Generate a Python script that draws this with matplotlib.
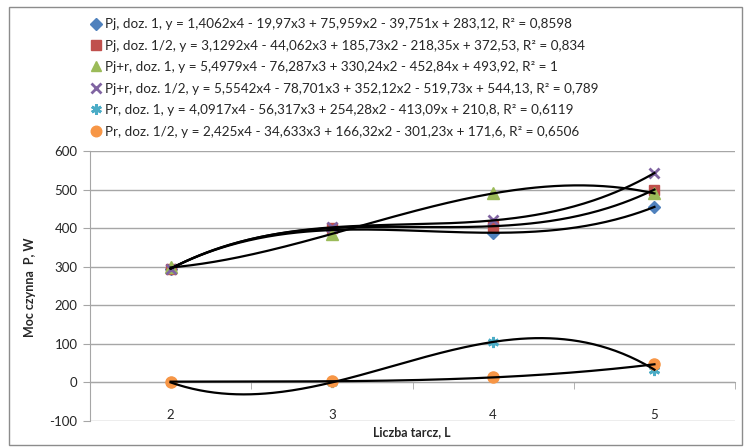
"""Moc czynna vs liczba tarcz, with order-4 trendline labels (Excel-style chart)."""

import matplotlib

matplotlib.use("Agg")
import matplotlib.pyplot as plt
import numpy as np
from matplotlib.lines import Line2D
from matplotlib.patches import Rectangle

plt.rcParams["font.family"] = ["Lato", "DejaVu Sans"]
plt.rcParams["axes.unicode_minus"] = False

categories = ["2", "3", "4", "5"]

pj_1 = [295, 395, 388, 455]
pj_half = [295, 400, 405, 500]
pjr_1 = [298, 385, 490, 490]
pjr_half = [295, 402, 420, 543]
pr_1 = [0, 0, 105, 33]
pr_half = [2, 3, 13, 47]

labels = [
    "Pj, doz. 1, y = 1,4062x4 - 19,97x3 + 75,959x2 - 39,751x + 283,12, R² = 0,8598",
    "Pj, doz. 1/2, y = 3,1292x4 - 44,062x3 + 185,73x2 - 218,35x + 372,53, R² = 0,834",
    "Pj+r, doz. 1, y = 5,4979x4 - 76,287x3 + 330,24x2 - 452,84x + 493,92, R² = 1",
    "Pj+r, doz. 1/2, y = 5,5542x4 - 78,701x3 + 352,12x2 - 519,73x + 544,13, R² = 0,789",
    "Pr, doz. 1, y = 4,0917x4 - 56,317x3 + 254,28x2 - 413,09x + 210,8, R² = 0,6119",
    "Pr, doz. 1/2, y = 2,425x4 - 34,633x3 + 166,32x2 - 301,23x + 171,6, R² = 0,6506",
]

series = [pj_1, pj_half, pjr_1, pjr_half, pr_1, pr_half]
styles = [
    dict(marker="D", color="#4F81BD", ms=6.5),
    dict(marker="s", color="#C0504D", ms=7.5),
    dict(marker="^", color="#9BBB59", ms=8),
    dict(marker="x", color="#8064A2", ms=7.5, mew=2),
    dict(marker=(6, 2, 0), color="#4BACC6", ms=8, mew=2),
    dict(marker="o", color="#F79646", ms=8),
]

fig = plt.figure(figsize=(7.44, 4.47), dpi=100)
ax = fig.add_axes([0.121, 0.0582, 0.867, 0.604])

x = np.arange(len(categories))
handles = []
for vals, st in zip(series, styles):
    mew = st.get("mew", 1)
    ax.plot(x, vals, linestyle="none", marker=st["marker"], ms=st["ms"],
            color=st["color"], mec=st["color"], mew=mew, zorder=3)
    handles.append(Line2D([], [], linestyle="none", marker=st["marker"], ms=st["ms"] * 0.95,
                          color=st["color"], mec=st["color"], mew=mew))

# trendlines: exact polynomial through the 4 points (what Excel's order-4 fit ends up drawing)
xs = np.linspace(0, 3, 200)
for vals in series:
    coef = np.polyfit(x, vals, 3)
    ax.plot(xs, np.polyval(coef, xs), color="black", lw=1.6, zorder=4)

ax.set_xlim(-0.5, 3.5)
ax.set_ylim(-100, 600)
ax.set_yticks(np.arange(-100, 601, 100))
ax.grid(axis="y", color="#A6A6A6", lw=1)
ax.set_axisbelow(True)

for side in ["top", "right"]:
    ax.spines[side].set_visible(False)
ax.spines["left"].set_color("#A6A6A6")
ax.spines["bottom"].set_color("#A6A6A6")
ax.spines["bottom"].set_position(("data", 0))

ax.set_xticks(x)
ax.set_xticklabels(categories)
ax.set_xticks(np.arange(-0.5, 3.6, 1), minor=True)
ax.tick_params(axis="x", which="major", length=0, pad=19, labelsize=9.5, labelcolor="#262626")
ax.tick_params(axis="x", which="minor", length=5, color="#A6A6A6", direction="out")
ax.tick_params(axis="y", length=5, color="#A6A6A6", labelsize=9.5, labelcolor="#262626", pad=4)

fig.text(0.040, 0.358, "Moc czynna  P, W", rotation=90, ha="center", va="center",
         fontsize=9, fontweight="bold", color="#262626")
fig.text(0.554, 0.034, "Liczba tarcz, L", ha="center", va="center",
         fontsize=9, fontweight="bold", color="#262626")

fig.legend(handles, labels, loc="upper left", bbox_to_anchor=(0.113, 0.971),
           frameon=False, fontsize=9.7, labelspacing=0.70, handletextpad=0.15,
           handlelength=1.0, borderaxespad=0, labelcolor="#262626")

fig.patches.append(Rectangle((0.012, 0.005), 0.985, 0.98, transform=fig.transFigure,
                             fill=False, edgecolor="#8C8C8C", lw=1))

fig.savefig("out.png", dpi=100)
plt.close(fig)
